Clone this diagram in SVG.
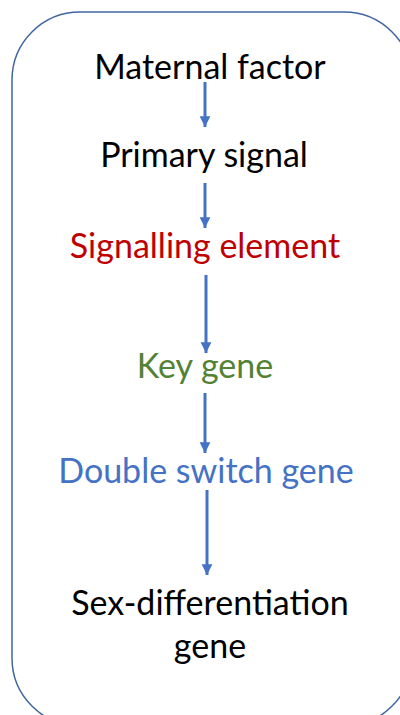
<svg xmlns="http://www.w3.org/2000/svg" width="400" height="715" viewBox="0 0 400 715">
  <defs>
    <marker id="arrowhead" viewBox="0 0 10 10" refX="10" refY="5" markerWidth="3.6" markerHeight="3.8" markerUnits="strokeWidth" orient="auto">
      <path d="M0,0 L10,5 L0,10 Z" fill="#4472C4"/>
    </marker>
  </defs>
  <style>
    .frame { fill: #FFFFFF; stroke: #41669F; stroke-width: 1.5; }
    .label { font-family: Lato, "Open Sans", "Liberation Sans", sans-serif; font-size: 34px; text-anchor: middle; }
    .black { fill: #000000; }
    .red { fill: #C00000; }
    .green { fill: #548235; }
    .blue { fill: #4472C4; }
    .link { stroke: #4472C4; stroke-width: 3; fill: none; marker-end: url(#arrowhead); }
  </style>
  <rect width="400" height="715" fill="#FFFFFF"/>
  <!-- outer rounded frame -->
  <rect class="frame" x="12" y="12" width="400" height="714" rx="68" ry="68"/>

  <g id="connectors">
    <line class="link" x1="205" y1="82" x2="205" y2="127"/>
    <line class="link" x1="205" y1="183" x2="205" y2="228"/>
    <line class="link" x1="206" y1="275" x2="206" y2="353"/>
    <line class="link" x1="205" y1="393" x2="205" y2="453"/>
    <line class="link" x1="207" y1="490" x2="207" y2="575"/>
  </g>

  <g id="maternal-factor">
    <text class="label black" x="210" y="79">Maternal factor</text>
  </g>
  <g id="primary-signal">
    <text class="label black" x="204" y="167">Primary signal</text>
  </g>
  <g id="signalling-element">
    <text class="label red" x="205" y="258">Signalling element</text>
  </g>
  <g id="key-gene">
    <text class="label green" x="205" y="378">Key gene</text>
  </g>
  <g id="double-switch-gene">
    <text class="label blue" x="206" y="483">Double switch gene</text>
  </g>
  <g id="sex-differentiation-gene">
    <text class="label black" x="210" y="615">Sex-differentiation</text>
    <text class="label black" x="210" y="658">gene</text>
  </g>
</svg>
